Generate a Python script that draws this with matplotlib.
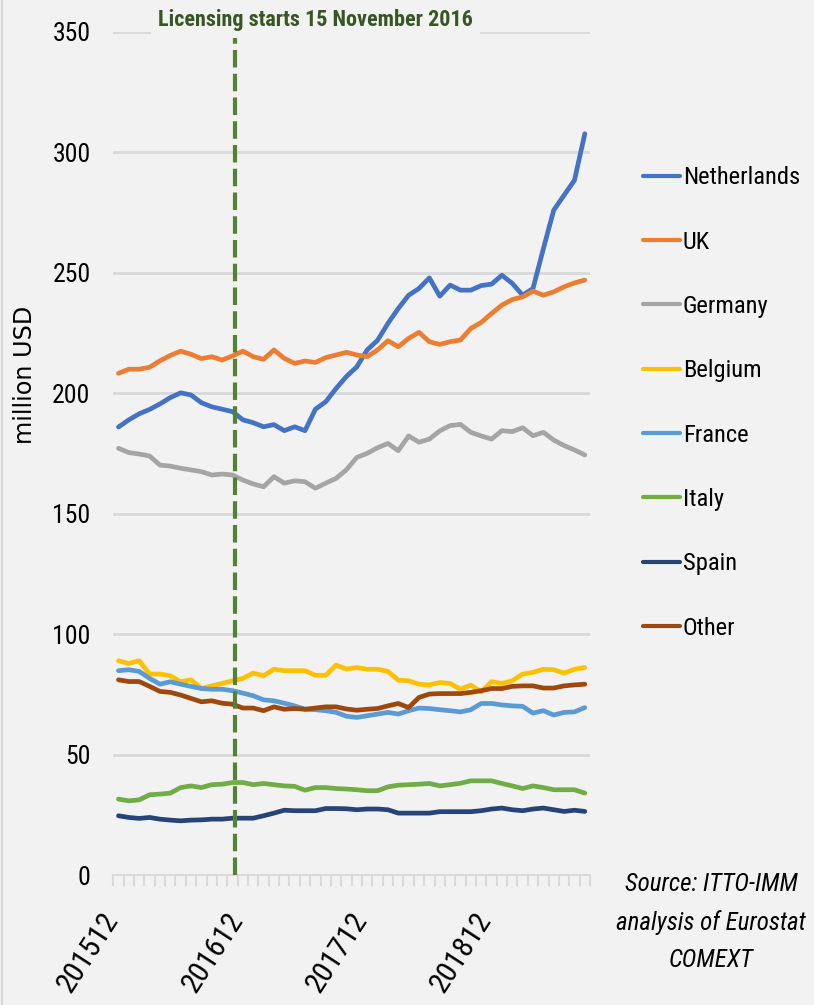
import numpy as np
import matplotlib
matplotlib.use("Agg")
import matplotlib.pyplot as plt
import matplotlib.transforms as mtransforms
from matplotlib import font_manager

# pick a narrow sans if one is installed, else shrink a normal one
names = set(f.name for f in font_manager.fontManager.ttflist)
narrow_names = ['Roboto Condensed', 'Liberation Sans Narrow', 'Open Sans Condensed',
                'Noto Sans Condensed', 'DejaVu Sans Condensed', 'Arial Narrow']
found = [n for n in narrow_names if n in names]
if found:
    base_font, scale = found[0], 0.9
else:
    base_font, scale = 'Liberation Sans', 0.78
plt.rcParams['font.family'] = [base_font, 'DejaVu Sans']
fs = 20 * scale

# monthly data 201512 .. 201909 (million USD)
months = ['201512'] + ['2016%02d' % m for m in range(1, 13)] + \
         ['2017%02d' % m for m in range(1, 13)] + ['2018%02d' % m for m in range(1, 13)] + \
         ['2019%02d' % m for m in range(1, 10)]

netherlands = [186, 189, 191.5, 193.3, 195.6, 198.2, 200.2, 199.3, 196.1, 194.4, 193.4, 192.4,
               189, 187.8, 186.1, 187, 184.5, 186.1, 184.5, 193.4, 196.5, 202, 207,
               211, 218, 222, 229, 235.2, 240.7, 243.5, 247.9, 240.3, 244.9, 242.8, 242.8,
               244.7, 245.3, 249, 245.6, 240.7, 243.5, 260, 276, 282.2, 288.4, 307.7]
uk = [208.3, 210, 210, 210.8, 213.5, 215.7, 217.5, 216.2, 214.4, 215.2, 213.8, 215.5,
      217.5, 215.2, 214.1, 218, 214.5, 212.4, 213.4, 212.8, 214.8, 215.9, 217,
      215.9, 215.2, 218, 221.8, 219.3, 222.8, 225.3, 221.4, 220.3, 221.4, 222.1, 226.9,
      229.4, 233.1, 236.6, 238.9, 240, 242.4, 240.7, 242.1, 244.2, 245.8, 247]
germany = [177.2, 175.4, 174.8, 174, 170.2, 169.8, 168.9, 168.2, 167.5, 166.1, 166.5, 166.1,
           164, 162.4, 161.2, 165.4, 162.7, 163.7, 163.3, 160.6, 162.7, 164.7, 168.3,
           173.4, 175.1, 177.4, 179.2, 176.2, 182.3, 179.7, 181, 184.4, 186.6, 187.1, 183.8,
           182.3, 181, 184.5, 184.1, 185.7, 182.4, 183.8, 180.6, 178.3, 176.5, 174.4]
belgium = [89, 87.9, 89, 83.5, 83.5, 82.8, 80.3, 81.1, 77.5, 78.6, 79.6, 80.7,
           81.7, 83.9, 82.8, 85.5, 84.9, 84.9, 84.9, 83, 83, 87.2, 85.6,
           86.2, 85.5, 85.5, 84.6, 81, 80.7, 79.3, 79, 80, 79.6, 77.2, 78.9,
           76.1, 80.3, 79.6, 80.7, 83.5, 84.2, 85.5, 85.3, 83.9, 85.5, 86.2]
france = [84.9, 85.3, 84.6, 81.7, 79.3, 80.3, 79.3, 78.4, 77.5, 77.2, 77.2, 76.6,
          75.6, 74.5, 72.8, 72.4, 71.4, 70.3, 68.9, 68.7, 68.3, 67.6, 66,
          65.5, 66.2, 66.9, 67.6, 66.9, 68.3, 69.4, 69.2, 68.7, 68.3, 67.8, 68.7,
          71.3, 71.3, 70.7, 70.3, 70.1, 67.3, 68.3, 66.5, 67.6, 67.8, 69.6]
italy = [31.6, 30.9, 31.3, 33.4, 33.7, 34.1, 36.4, 37.1, 36.4, 37.6, 37.8, 38.5,
         38.5, 37.6, 38.1, 37.6, 37.1, 36.9, 35.3, 36.4, 36.4, 36, 35.8,
         35.5, 35.1, 35.1, 36.7, 37.4, 37.6, 37.8, 38.1, 37.1, 37.6, 38.2, 39.2,
         39.2, 39.2, 38.1, 37.1, 36, 37.1, 36.4, 35.5, 35.5, 35.5, 34.1]
spain = [24.7, 24, 23.6, 24, 23.3, 22.9, 22.6, 22.9, 23, 23.3, 23.3, 23.7,
         23.7, 23.7, 24.7, 25.8, 27, 26.8, 26.8, 26.8, 27.7, 27.7, 27.6,
         27.2, 27.5, 27.5, 27.2, 25.8, 25.8, 25.8, 25.8, 26.4, 26.4, 26.4, 26.4,
         26.8, 27.5, 27.9, 27.2, 26.8, 27.5, 27.9, 27.2, 26.5, 27, 26.5]
other = [81.1, 80.4, 80.4, 78.4, 76.3, 75.9, 74.8, 73.4, 72, 72.4, 71.4, 71,
         69.4, 69.4, 68.3, 69.9, 68.9, 69.2, 68.9, 69.4, 69.9, 69.9, 69,
         68.5, 68.9, 69.2, 70.3, 71.3, 69.6, 73.8, 75.2, 75.4, 75.4, 75.4, 75.9,
         76.6, 77.5, 77.5, 78.4, 78.6, 78.6, 77.7, 77.7, 78.6, 79, 79.3]

series_names = ['Netherlands', 'UK', 'Germany', 'Belgium', 'France', 'Italy', 'Spain', 'Other']
series_vals = [netherlands, uk, germany, belgium, france, italy, spain, other]
colors = ['#4472C4', '#ED7D31', '#A5A5A5', '#FFC000', '#5B9BD5', '#70AD47', '#264478', '#9E480E']

licence_pos = 11.25   # 15 November 2016 on the month axis
label_idx = [0, 12, 24, 36]

bg = '#F2F2F2'
grid_c = '#D9D9D9'

fig = plt.figure(figsize=(8.14, 10.05), dpi=100, facecolor=bg)
ax = fig.add_axes([113.3 / 814, 129.7 / 1005, 476.7 / 814, 843.5 / 1005], facecolor=bg)

x = np.arange(len(months))
for name, vals, c in zip(series_names, series_vals, colors):
    ax.plot(x, vals, color=c, lw=3.4, label=name, solid_capstyle='round',
            solid_joinstyle='round', zorder=3)

ax.axvline(licence_pos, ymin=0, ymax=1, color='#548235', lw=3.0, dashes=(4.2, 1.5), zorder=4)

ax.set_xlim(-0.5, len(months) - 0.5)
ax.set_ylim(0, 350)
ax.set_yticks(np.arange(0, 351, 50))
ax.yaxis.grid(True, color=grid_c, lw=2)
ax.set_axisbelow(True)
ax.tick_params(axis='y', length=0, pad=16.5, labelsize=fs * 1.03, labelcolor='#000000')

ax.set_xticks(label_idx)
ax.set_xticklabels([months[i] for i in label_idx], rotation=57, ha='right', va='top')
ax.set_xticks(np.arange(-0.5, len(months), 1.0), minor=True)
ax.tick_params(axis='x', which='major', length=0, pad=23, labelsize=fs * 1.2)
ax.tick_params(axis='x', which='minor', length=8, width=1.5, color=grid_c)
offset = mtransforms.ScaledTranslation(6 / 100, 0, fig.dpi_scale_trans)
for lab in ax.get_xticklabels():
    lab.set_transform(lab.get_transform() + offset)

for s in ['top', 'right', 'left']:
    ax.spines[s].set_visible(False)
ax.spines['bottom'].set_color(grid_c)
ax.spines['bottom'].set_linewidth(1.5)

# annotation over the 350 gridline
ax.text(licence_pos + 7.75, 350, 'Licensing starts 15 November 2016', ha='center', va='center',
        fontsize=fs * 0.885, fontweight='bold', color='#375623', zorder=6,
        transform=mtransforms.offset_copy(ax.transData, fig=fig, y=12, units='dots'),
        bbox=dict(facecolor=bg, edgecolor='none', pad=5))

fig.text(25 / 814, 1 - 375 / 1005, 'million USD', rotation=90, ha='center', va='center',
         fontsize=17.2, family='DejaVu Sans', color='#000000')

fs_leg = fs * 0.98
fs_px = fs_leg * 100 / 72
leg = ax.legend(loc='upper left', bbox_to_anchor=(643 / 814, 1 - (178.5 - 0.5 * fs_px) / 1005),
                bbox_transform=fig.transFigure, frameon=False, fontsize=fs_leg,
                handlelength=37 / fs_px, handletextpad=3 / fs_px,
                labelspacing=(64.6 - 0.95 * fs_px) / fs_px,
                borderpad=0, borderaxespad=0)
for h in leg.get_lines():
    h.set_linewidth(3.0)

fig.text(711 / 814, 1 - 922 / 1005, 'Source: ITTO-IMM\nanalysis of Eurostat\nCOMEXT',
         ha='center', va='center', fontsize=fs, style='italic', linespacing=1.7)

fig.add_artist(plt.Line2D([2 / 814, 2 / 814], [0, 1], color=grid_c, lw=1.5))

fig.savefig('out.png', dpi=100, facecolor=bg)
